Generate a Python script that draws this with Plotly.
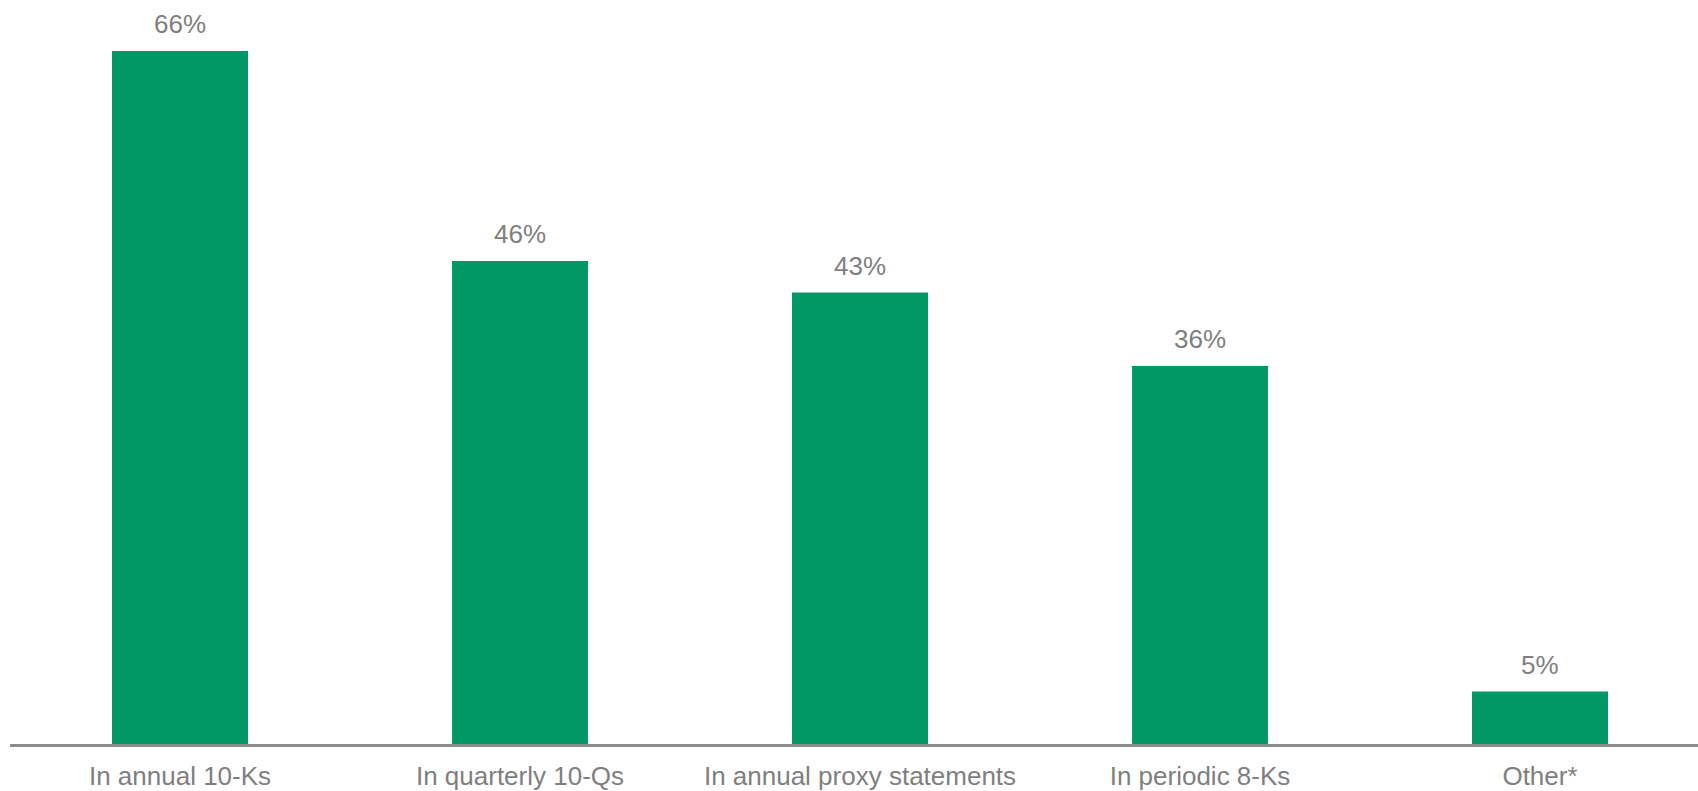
import plotly.graph_objects as go

# Where companies disclose the information, share of respondents (%)
categories = [
    "In annual 10-Ks",
    "In quarterly 10-Qs",
    "In annual proxy statements",
    "In periodic 8-Ks",
    "Other*",
]
shares = [66, 46, 43, 36, 5]
value_labels = ["66%", "46%", "43%", "36%", "5%"]

BAR_COLOR = "#009865"
TEXT_COLOR = "#7f7f7f"
AXIS_COLOR = "#8c8c8c"
FONT = "Liberation Sans, Arial, sans-serif"

fig = go.Figure(
    go.Bar(
        x=categories,
        y=shares,
        marker=dict(color=BAR_COLOR, line=dict(width=0)),
        width=0.4,
        hoverinfo="x+y",
    )
)

for cat, val, lab in zip(categories, shares, value_labels):
    fig.add_annotation(
        x=cat,
        y=val,
        text=lab,
        showarrow=False,
        yanchor="bottom",
        yshift=10,
        font=dict(family=FONT, size=26, color=TEXT_COLOR),
    )

fig.update_layout(
    width=1698,
    height=791,
    margin=dict(l=10, r=0, t=0, b=47),
    paper_bgcolor="white",
    plot_bgcolor="white",
    showlegend=False,
    font=dict(family=FONT, size=26, color=TEXT_COLOR),
    xaxis=dict(
        type="category",
        range=[-0.5, 4.4647],
        showline=True,
        linecolor=AXIS_COLOR,
        linewidth=2.5,
        showgrid=False,
        zeroline=False,
        ticks="",
        ticklabelstandoff=7,
        tickfont=dict(family=FONT, size=26, color=TEXT_COLOR),
    ),
    yaxis=dict(
        range=[0, 70.857],
        visible=False,
        showgrid=False,
        zeroline=False,
    ),
)

fig.write_html("out.html")
